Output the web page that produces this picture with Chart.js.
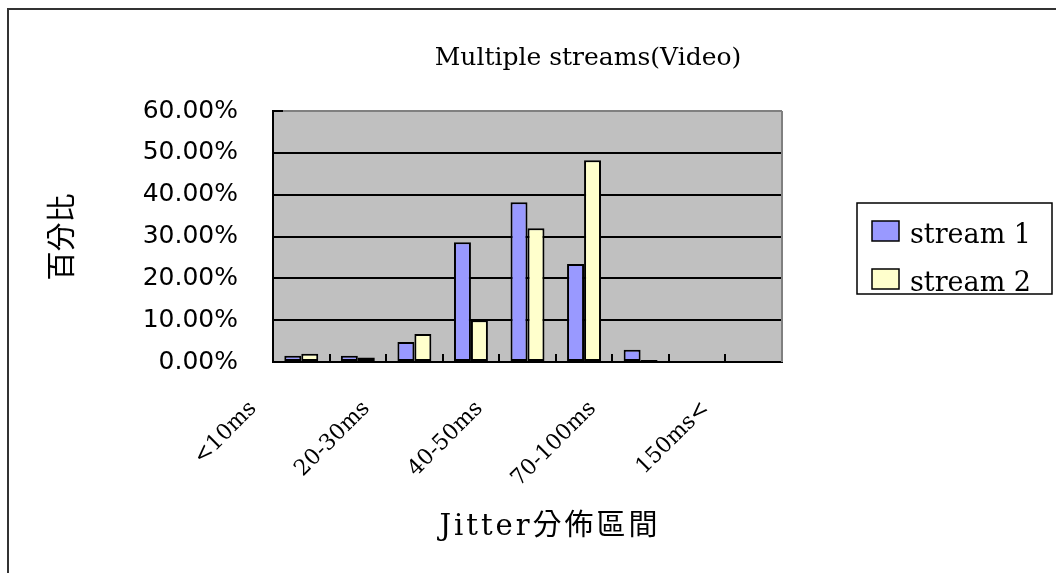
<!DOCTYPE html>
<html>
<head>
<meta charset="utf-8">
<script src="https://cdn.jsdelivr.net/npm/chart.js@4.4.1/dist/chart.umd.min.js"></script>
<style>
  body { margin: 0; background: #fff; }
  canvas { display: block; }
</style>
</head>
<body>
<canvas id="chart" width="1056" height="573"></canvas>
<script>
const categories = ['<10ms', '10-20ms', '20-30ms', '30-40ms', '40-50ms', '50-70ms', '70-100ms', '100-150ms', '150ms<'];
const stream1 = [1.5, 1.5, 4.8, 28.6, 38.2, 23.4, 2.9, 0, 0];
const stream2 = [2.0, 1.1, 6.7, 10.0, 32.0, 48.2, 0.5, 0, 0];
const seriesNames = ['stream 1', 'stream 2'];
const yTicks = [0, 10, 20, 30, 40, 50, 60];

const chartTitle = 'Multiple streams(Video)';
const xTitle = 'Jitter分佈區間';
const yTitle = '百分比';

// plot background, frame, titles and the boxed legend, drawn the Excel way
const excelDecor = {
    id: 'excelDecor',
    beforeDraw(chart) {
        const { ctx, chartArea: a } = chart;
        ctx.save();
        ctx.fillStyle = '#fff';
        ctx.fillRect(0, 0, chart.width, chart.height);
        ctx.fillStyle = '#c0c0c0';
        ctx.fillRect(a.left, a.top, a.right - a.left, a.bottom - a.top);
        ctx.strokeStyle = '#333';
        ctx.lineWidth = 2;
        ctx.strokeRect(8, 9, 2000, 2000);
        ctx.restore();
    },
    beforeDatasetsDraw(chart) {
        const { ctx, chartArea: a } = chart;
        ctx.save();
        ctx.strokeStyle = '#808080';
        ctx.lineWidth = 2;
        ctx.beginPath();
        ctx.moveTo(a.right, a.top);
        ctx.lineTo(a.right, a.bottom);
        ctx.stroke();
        ctx.restore();
    },
    afterDraw(chart) {
        const ctx = chart.ctx;
        ctx.save();
        ctx.fillStyle = '#000';

        ctx.font = "25px 'DejaVu Serif'";
        ctx.textAlign = 'center';
        ctx.textBaseline = 'alphabetic';
        ctx.fillText(chartTitle, 588, 65);

        ctx.font = "29px 'DejaVu Serif', 'Noto Sans CJK TC'";
        ctx.letterSpacing = '3px';
        ctx.textBaseline = 'middle';
        ctx.fillText(xTitle, 550, 527);
        ctx.letterSpacing = '0px';

        ctx.save();
        ctx.translate(61, 237);
        ctx.rotate(-Math.PI / 2);
        ctx.font = "29px 'Noto Sans CJK TC'";
        ctx.fillText(yTitle, 0, 0);
        ctx.restore();

        // legend
        ctx.strokeStyle = '#000';
        ctx.lineWidth = 1.5;
        ctx.strokeRect(857, 203, 195, 91);
        ctx.font = "27px 'DejaVu Serif'";
        ctx.textAlign = 'left';
        ctx.textBaseline = 'alphabetic';
        chart.data.datasets.forEach((ds, i) => {
            const y = 221 + i * 48;
            ctx.fillStyle = ds.backgroundColor;
            ctx.fillRect(872, y, 27, 20);
            ctx.strokeRect(872, y, 27, 20);
            ctx.fillStyle = '#000';
            ctx.fillText(ds.label, 910, y + 22);
        });
        ctx.restore();
    }
};

new Chart(document.getElementById('chart'), {
    type: 'bar',
    data: {
        labels: categories,
        datasets: [{
            label: seriesNames[0],
            data: stream1,
            backgroundColor: '#9999ff',
            borderColor: '#000',
            borderWidth: 2,
            borderSkipped: false
        }, {
            label: seriesNames[1],
            data: stream2,
            backgroundColor: '#ffffcc',
            borderColor: '#000',
            borderWidth: 2,
            borderSkipped: false
        }]
    },
    options: {
        responsive: false,
        animation: false,
        layout: { padding: { left: 0, top: 111, right: 274, bottom: 0 } },
        datasets: { bar: { categoryPercentage: 0.6, barPercentage: 1.0 } },
        plugins: {
            legend: { display: false },
            title: { display: false },
            tooltip: { enabled: false }
        },
        scales: {
            x: {
                afterFit(scale) { scale.height = 211; },
                grid: {
                    offset: true,
                    drawOnChartArea: false,
                    drawTicks: true,
                    tickLength: -8,
                    color: '#000',
                    lineWidth: 2
                },
                border: { display: true, color: '#000', width: 2 },
                ticks: {
                    autoSkip: false,
                    minRotation: 45,
                    maxRotation: 45,
                    labelOffset: -48,
                    padding: 42,
                    color: '#000',
                    font: { family: 'DejaVu Serif', size: 22 },
                    callback(value, index) {
                        return index % 2 === 0 ? categories[index] : '';
                    }
                }
            },
            y: {
                min: 0,
                max: 60,
                afterFit(scale) { scale.width = 273; },
                afterBuildTicks(scale) { scale.ticks = yTicks.map(v => ({ value: v })); },
                grid: {
                    drawTicks: true,
                    tickLength: -10,
                    lineWidth: 2,
                    tickColor: '#000',
                    color(c) { return c.tick && c.tick.value === 60 ? '#808080' : '#000'; }
                },
                border: { display: true, color: '#000', width: 2 },
                ticks: {
                    padding: 45,
                    color: '#000',
                    font: { family: 'DejaVu Sans', size: 25 },
                    callback(value) { return value.toFixed(2) + '%'; }
                }
            }
        }
    },
    plugins: [excelDecor]
});
</script>
</body>
</html>
